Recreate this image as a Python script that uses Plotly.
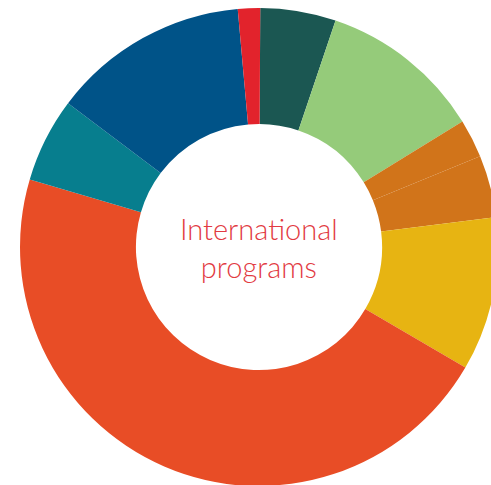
import plotly.graph_objects as go

categories = ["Segment 1", "Segment 2", "Segment 3", "Segment 4", "Segment 5",
              "Segment 6", "Segment 7", "Segment 8", "Segment 9"]
values = [5.1, 11.0, 2.6, 4.2, 10.4, 46.1, 5.7, 13.3, 1.5]
colors = ["#1b5752", "#95cb7a", "#d1741a", "#d1741a", "#e7b412",
          "#e84d26", "#077e8e", "#005388", "#e2232c"]
center_label = "International<br>programs"

W, H = 518, 494
fig = go.Figure(go.Pie(
    labels=categories,
    values=values,
    sort=False,
    direction="clockwise",
    rotation=0.3,
    hole=0.515,
    marker=dict(colors=colors, line=dict(width=0)),
    textinfo="none",
    hoverinfo="label+percent",
    domain=dict(x=[0, 1], y=[8 / H, 1 - 8 / H]),
    showlegend=False,
))
fig.add_annotation(
    text=center_label, x=0.5, y=0.5, xref="paper", yref="paper",
    showarrow=False, font=dict(family="Lato", size=29, color="#e23a42", weight=300),
    align="center",
)
fig.update_layout(
    width=W, height=H,
    margin=dict(l=0, r=0, t=0, b=0),
    paper_bgcolor="white", plot_bgcolor="white",
)
fig.write_html("out.html", config={"displayModeBar": False},
               post_script="document.body.style.margin='0';document.body.style.overflow='hidden';")
